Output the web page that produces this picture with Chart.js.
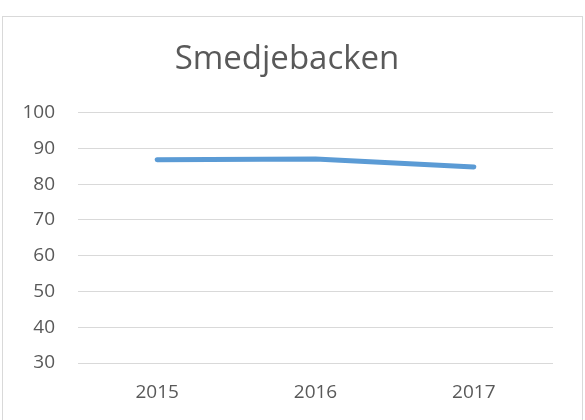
<!DOCTYPE html>
<html>
<head>
<meta charset="utf-8">
<script src="https://cdn.jsdelivr.net/npm/chart.js@4"></script>
<style>
  html, body { margin: 0; padding: 0; background: #fff; overflow: hidden; }
  #box {
    position: absolute; left: 2px; top: 16px;
    width: 579px; height: 410px;
    border: 1px solid #d9d9d9;
  }
</style>
</head>
<body>
<div id="box"><canvas id="myChart" width="579" height="410"></canvas></div>
<script>
const years = ["2015", "2016", "2017"];
const values = [86.8, 87.0, 84.8];
const yTicks = [30, 40, 50, 60, 70, 80, 90, 100];

const textColor = "#595959";
const fontFamily = "'Open Sans', 'Liberation Sans', sans-serif";

const ctx = document.getElementById("myChart").getContext("2d");
const myChart = new Chart(ctx, {
  type: "line",
  data: {
    labels: years,
    datasets: [
      {
        label: "Smedjebacken",
        data: values,
        borderColor: "#5b9bd5",
        borderWidth: 5,
        borderCapStyle: "round",
        borderJoinStyle: "round",
        pointRadius: 0,
        tension: 0,
        fill: false,
      },
    ],
  },
  options: {
    responsive: false,
    animation: false,
    layout: { padding: { left: 18, right: 29, top: 0, bottom: 0 } },
    plugins: {
      legend: { display: false },
      tooltip: { enabled: false },
      title: {
        display: true,
        text: "Smedjebacken",
        color: textColor,
        font: { family: fontFamily, size: 33, weight: "normal" },
        padding: { top: 23, bottom: 33 },
      },
    },
    scales: {
      x: {
        offset: true,
        afterFit: (axis) => {
          axis.height = 64;
        },
        grid: { display: false, drawTicks: false },
        border: { display: false },
        ticks: {
          color: textColor,
          font: { family: fontFamily, size: 19 },
          padding: 18,
        },
      },
      y: {
        min: yTicks[0],
        max: yTicks[yTicks.length - 1],
        afterBuildTicks: (axis) => {
          axis.ticks = yTicks.map((v) => ({ value: v }));
        },
        afterFit: (axis) => {
          axis.width = 57;
        },
        grid: { color: "#d9d9d9", lineWidth: 1, drawTicks: false },
        border: { display: false },
        ticks: {
          color: textColor,
          font: { family: fontFamily, size: 19 },
          padding: 23,
        },
      },
    },
  },
});
</script>
</body>
</html>
